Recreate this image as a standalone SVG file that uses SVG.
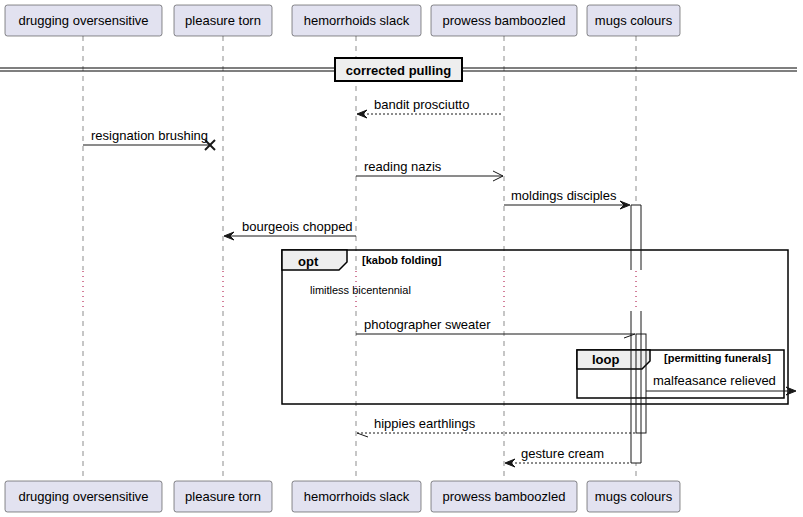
<svg xmlns="http://www.w3.org/2000/svg" width="803" height="517" viewBox="0 0 803 517">
<defs>
<style>
text{font-family:"Liberation Sans",Arial,sans-serif;fill:#000}
.pt{font-size:13px;text-anchor:middle}
.ml{font-size:13px}
.b{font-weight:bold}
.box{fill:#E2E2F0;stroke:#181818;stroke-width:0.5}
.life{stroke:#181818;stroke-width:0.5;stroke-dasharray:5,5;fill:none}
.dot{stroke:#A80036;stroke-width:1;stroke-dasharray:1,4;fill:none}
.msg{stroke:#181818;stroke-width:1;fill:none}
.dash{stroke:#181818;stroke-width:1;stroke-dasharray:2,2;fill:none}
.head{fill:#181818;stroke:#181818;stroke-width:1}
.frame{fill:none;stroke:#000;stroke-width:1.5}
.tab{fill:#EEEEEE;stroke:#000;stroke-width:1.5}
.act{fill:#FFFFFF;stroke:none}
.actl{fill:none;stroke:#181818;stroke-width:1}
</style>
</defs>
<g id="lifelines">
<line class="life" x1="83" y1="36" x2="83" y2="270"/><line class="life" x1="83" y1="311" x2="83" y2="480"/>
<line class="life" x1="223" y1="36" x2="223" y2="270"/><line class="life" x1="223" y1="311" x2="223" y2="480"/>
<line class="life" x1="356" y1="36" x2="356" y2="270"/><line class="life" x1="356" y1="311" x2="356" y2="480"/>
<line class="life" x1="504" y1="36" x2="504" y2="270"/><line class="life" x1="504" y1="311" x2="504" y2="480"/>
<line class="life" x1="636" y1="36" x2="636" y2="270"/><line class="life" x1="636" y1="311" x2="636" y2="480"/>
<line class="dot" x1="83" y1="271" x2="83" y2="311"/>
<line class="dot" x1="223" y1="271" x2="223" y2="311"/>
<line class="dot" x1="356" y1="271" x2="356" y2="311"/>
<line class="dot" x1="504" y1="271" x2="504" y2="311"/>
<line class="dot" x1="636" y1="271" x2="636" y2="311"/>
</g>
<g id="activations">
<rect class="act" x="631" y="205" width="10" height="65"/>
<rect class="act" x="631" y="311" width="10" height="152"/>
<rect class="act" x="636" y="334" width="10" height="99"/>
</g>
<g id="divider">
<line x1="0" y1="68" x2="335" y2="68" stroke="#000" stroke-width="1.2"/>
<line x1="0" y1="71" x2="335" y2="71" stroke="#000" stroke-width="1.2"/>
<line x1="462" y1="68" x2="797" y2="68" stroke="#000" stroke-width="1.2"/>
<line x1="462" y1="71" x2="797" y2="71" stroke="#000" stroke-width="1.2"/>
<rect x="335" y="58" width="127" height="23" fill="#EEEEEE" stroke="#000" stroke-width="2"/>
<text class="ml b" x="398.5" y="75" text-anchor="middle">corrected pulling</text>
</g>
<g id="frame-opt">
<rect class="frame" x="282" y="250" width="506" height="154"/>
<path class="tab" d="M282,250 H347 V262 L339,270 H282 Z"/>
<text class="ml b" x="298" y="266">opt</text>
<text class="b" x="362" y="264" font-size="11">[kabob folding]</text>
</g>
<g id="frame-loop">
<rect class="frame" x="577" y="350" width="207" height="48"/>
<path class="tab" d="M577,350 H650 V361 L642,369 H577 Z"/>
<text class="ml b" x="592" y="364">loop</text>
<text class="b" x="664" y="362" font-size="11">[permitting funerals]</text>
</g>
<g id="activation-borders">
<path class="actl" d="M631,270 V205 H641 V270"/>
<path class="actl" d="M631,311 V463 H641 V311"/>
<rect class="actl" x="636" y="334" width="10" height="99"/>
</g>
<g id="connectors">
<line class="dash" x1="359" y1="114" x2="503" y2="114"/>
<polygon class="head" points="357,114 367,110 363,114 367,118"/>
<text class="ml" x="374" y="109">bandit prosciutto</text>

<line class="msg" x1="83" y1="145" x2="210" y2="145"/>
<line x1="205" y1="140" x2="215" y2="150" stroke="#181818" stroke-width="2"/>
<line x1="205" y1="150" x2="215" y2="140" stroke="#181818" stroke-width="2"/>
<text class="ml" x="91" y="140">resignation brushing</text>

<line class="msg" x1="356" y1="176" x2="503" y2="176"/>
<polyline class="msg" points="493,171 503,176 493,181"/>
<text class="ml" x="364" y="171">reading nazis</text>

<line class="msg" x1="504" y1="205" x2="627" y2="205"/>
<polygon class="head" points="630,205 620,201 624,205 620,209"/>
<text class="ml" x="511" y="200">moldings disciples</text>

<line class="msg" x1="226" y1="236" x2="356" y2="236"/>
<polygon class="head" points="224,236 234,232 230,236 234,240"/>
<text class="ml" x="242" y="231">bourgeois chopped</text>

<text x="310" y="294" font-size="11">limitless bicentennial</text>

<line class="msg" x1="356" y1="334" x2="635" y2="334"/>
<line class="msg" x1="635" y1="334" x2="624" y2="338"/>
<text class="ml" x="364" y="329">photographer sweater</text>

<line class="msg" x1="646" y1="391" x2="793" y2="391"/>
<polygon class="head" points="796,391 786,387 790,391 786,395"/>
<text class="ml" x="653" y="385">malfeasance relieved</text>

<line class="dash" x1="357" y1="433" x2="636" y2="433"/>
<line class="msg" x1="357" y1="433" x2="368" y2="437"/>
<text class="ml" x="374" y="428">hippies earthlings</text>

<line class="dash" x1="507" y1="463" x2="631" y2="463"/>
<polygon class="head" points="505,463 515,459 511,463 515,467"/>
<text class="ml" x="521" y="458">gesture cream</text>
</g>
<g id="p1">
<rect class="box" x="5" y="5" width="157" height="31" rx="2.5"/><text class="pt" x="83.5" y="25">drugging oversensitive</text>
<rect class="box" x="5" y="481" width="157" height="31" rx="2.5"/><text class="pt" x="83.5" y="501">drugging oversensitive</text>
</g>
<g id="p2">
<rect class="box" x="174" y="5" width="98" height="31" rx="2.5"/><text class="pt" x="223" y="25">pleasure torn</text>
<rect class="box" x="174" y="481" width="98" height="31" rx="2.5"/><text class="pt" x="223" y="501">pleasure torn</text>
</g>
<g id="p3">
<rect class="box" x="292" y="5" width="129" height="31" rx="2.5"/><text class="pt" x="356.5" y="25">hemorrhoids slack</text>
<rect class="box" x="292" y="481" width="129" height="31" rx="2.5"/><text class="pt" x="356.5" y="501">hemorrhoids slack</text>
</g>
<g id="p4">
<rect class="box" x="431" y="5" width="146" height="31" rx="2.5"/><text class="pt" x="504" y="25">prowess bamboozled</text>
<rect class="box" x="431" y="481" width="146" height="31" rx="2.5"/><text class="pt" x="504" y="501">prowess bamboozled</text>
</g>
<g id="p5">
<rect class="box" x="587" y="5" width="93" height="31" rx="2.5"/><text class="pt" x="633.5" y="25">mugs colours</text>
<rect class="box" x="587" y="481" width="93" height="31" rx="2.5"/><text class="pt" x="633.5" y="501">mugs colours</text>
</g>
</svg>
